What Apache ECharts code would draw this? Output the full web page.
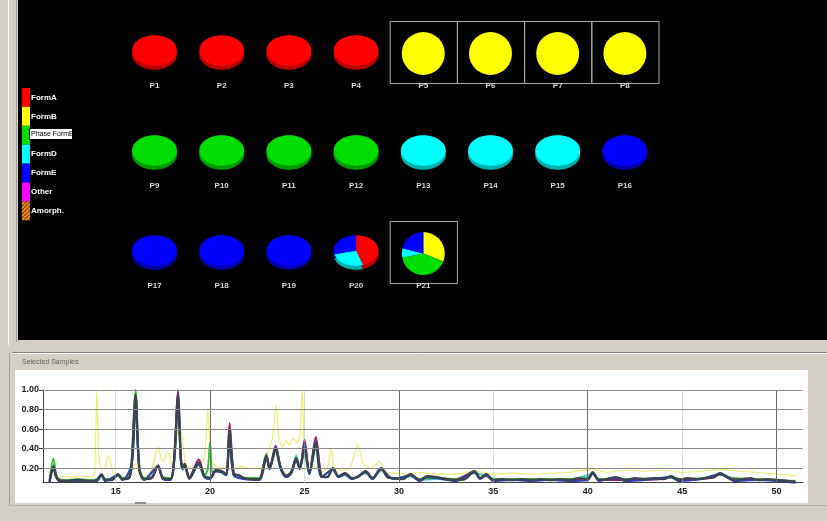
<!DOCTYPE html>
<html><head><meta charset="utf-8">
<script src="https://cdn.jsdelivr.net/npm/echarts@6/dist/echarts.min.js"></script>
<style>
html,body{margin:0;padding:0;width:827px;height:521px;overflow:hidden;background:#d4d0c8}
#main{position:absolute;left:0;top:0;width:827px;height:521px}
#tilt{position:absolute;left:0;top:0;width:827px;height:500px;transform:scaleY(0.68);transform-origin:0 0}
</style></head><body>
<div id="main"></div><div id="tilt"></div>
<script>
// ---------------- DATA ----------------
const sampleNames = ['P1','P2','P3','P4','P5','P6','P7','P8','P9','P10','P11','P12','P13','P14','P15','P16','P17','P18','P19','P20','P21'];
const phaseNames = ['FormA','FormB','FormC','FormD','FormE','Other','Amorph.'];
// phase percentage per sample (P1..P21)
const formA  = [100,100,100,100,0,0,0,0, 0,0,0,0,0,0,0,0, 0,0,0,45,0];
const formB  = [0,0,0,0,100,100,100,100, 0,0,0,0,0,0,0,0, 0,0,0,0,31];
const formC  = [0,0,0,0,0,0,0,0, 100,100,100,100,0,0,0,0, 0,0,0,0,41];
const formD  = [0,0,0,0,0,0,0,0, 0,0,0,0,100,100,100,0, 0,0,0,26,7];
const formE  = [0,0,0,0,0,0,0,0, 0,0,0,0,0,0,0,100, 100,100,100,29,21];
const other  = [0,0,0,0,0,0,0,0, 0,0,0,0,0,0,0,0, 0,0,0,0,0];
const amorph = [0,0,0,0,0,0,0,0, 0,0,0,0,0,0,0,0, 0,0,0,0,0];
const selectedSamples = ['P5','P6','P7','P8','P21'];
const tooltipText = 'Phase FormB';

// diffraction patterns of the selected samples: [2theta, normalised intensity]
const patternYellow = [[11.5,0.10],[11.7,0.14],[11.9,0.10],[12.3,0.12],[12.8,0.11],[13.3,0.12],[13.7,0.11],[13.88,0.14],[14.0,1.00],[14.1,0.35],[14.25,0.18],[14.45,0.22],[14.6,0.33],[14.75,0.25],[14.9,0.12],[15.15,0.14],[15.5,0.10],[15.8,0.16],[16.05,0.25],[16.3,0.12],[16.7,0.12],[17.0,0.25],[17.24,0.42],[17.5,0.26],[17.77,0.37],[18.0,0.22],[18.2,0.5],[18.35,0.62],[18.5,0.55],[18.7,0.25],[19.0,0.2],[19.4,0.22],[19.7,0.3],[19.88,0.80],[20.05,0.3],[20.3,0.22],[20.6,0.2],[20.85,0.22],[21.05,0.35],[21.3,0.2],[21.7,0.22],[22.0,0.2],[22.4,0.2],[22.8,0.22],[23.1,0.38],[23.3,0.5],[23.5,0.85],[23.65,0.5],[23.85,0.42],[24.0,0.48],[24.2,0.44],[24.4,0.5],[24.6,0.46],[24.75,0.52],[24.88,1.0],[25.0,0.35],[25.2,0.2],[25.6,0.22],[25.9,0.16],[26.2,0.2],[26.42,0.4],[26.6,0.2],[27.0,0.18],[27.4,0.2],[27.83,0.45],[28.1,0.25],[28.5,0.2],[28.97,0.27],[29.3,0.16],[29.8,0.15],[30.5,0.14],[31.0,0.16],[31.5,0.15],[32.0,0.14],[33.0,0.14],[34.0,0.17],[35.0,0.14],[36.0,0.15],[37.0,0.14],[38.0,0.15],[39.0,0.16],[40.2,0.19],[41.0,0.16],[42.0,0.18],[43.0,0.17],[44.0,0.18],[45.0,0.16],[46.0,0.17],[47.0,0.19],[48.0,0.17],[49.0,0.16],[50.0,0.14],[51.0,0.12]];
const patternCyan = [[11.5,0.07],[11.7,0.24],[11.85,0.12],[12.0,0.08],[13.0,0.08],[14.0,0.08],[14.25,0.12],[14.5,0.08],[15.12,0.13],[15.4,0.09],[15.85,0.26],[16.05,0.9],[16.25,0.2],[16.5,0.09],[17.24,0.21],[17.5,0.1],[17.9,0.09],[18.1,0.28],[18.3,0.88],[18.45,0.28],[18.55,0.19],[18.65,0.22],[18.9,0.1],[19.4,0.23],[19.7,0.11],[20.0,0.11],[20.3,0.17],[20.6,0.16],[20.85,0.13],[21.03,0.5],[21.25,0.13],[21.8,0.1],[22.6,0.09],[22.98,0.3],[23.15,0.2],[23.47,0.37],[23.75,0.18],[24.05,0.11],[24.3,0.15],[24.56,0.33],[24.75,0.19],[25.0,0.36],[25.25,0.14],[25.6,0.4],[25.9,0.11],[26.5,0.18],[26.8,0.11],[27.15,0.13],[27.5,0.09],[28.24,0.15],[28.6,0.09],[29.06,0.18],[29.7,0.09],[30.6,0.12],[31.1,0.08],[32.0,0.09],[33.0,0.08],[34.0,0.15],[34.62,0.12],[35.0,0.08],[37.0,0.08],[39.0,0.08],[40.26,0.14],[40.6,0.08],[42.0,0.08],[44.4,0.1],[45.0,0.08],[46.5,0.11],[47.0,0.15],[47.6,0.1],[49.0,0.08],[50.5,0.07],[51.0,0.06]];
const patternGreen = [[11.5,0.08],[11.7,0.30],[11.85,0.14],[12.0,0.09],[12.5,0.08],[13.0,0.09],[13.5,0.08],[14.0,0.09],[14.25,0.13],[14.45,0.09],[14.8,0.09],[15.12,0.14],[15.35,0.1],[15.7,0.11],[15.85,0.3],[16.05,1.0],[16.25,0.22],[16.5,0.1],[16.9,0.11],[17.24,0.22],[17.5,0.11],[17.9,0.1],[18.1,0.28],[18.3,0.9],[18.45,0.28],[18.55,0.2],[18.65,0.23],[18.9,0.11],[19.4,0.24],[19.7,0.12],[19.88,0.2],[20.0,0.47],[20.12,0.15],[20.3,0.18],[20.6,0.17],[20.85,0.14],[21.03,0.55],[21.25,0.14],[21.5,0.13],[21.8,0.1],[22.2,0.1],[22.6,0.1],[22.98,0.35],[23.15,0.2],[23.47,0.38],[23.75,0.2],[24.05,0.13],[24.3,0.17],[24.56,0.31],[24.75,0.21],[25.0,0.38],[25.25,0.16],[25.6,0.42],[25.9,0.12],[26.2,0.11],[26.5,0.19],[26.8,0.12],[27.15,0.14],[27.5,0.1],[27.8,0.11],[28.24,0.16],[28.6,0.1],[29.06,0.19],[29.4,0.11],[29.7,0.1],[30.2,0.09],[30.6,0.13],[31.1,0.09],[32.0,0.1],[33.0,0.09],[34.0,0.16],[34.3,0.1],[34.62,0.13],[35.0,0.09],[36.0,0.09],[37.0,0.09],[38.0,0.09],[39.0,0.09],[40.0,0.1],[40.26,0.15],[40.6,0.09],[42.0,0.09],[44.0,0.1],[44.4,0.11],[45.0,0.09],[46.5,0.11],[47.0,0.14],[47.6,0.1],[49.0,0.09],[50.0,0.08],[51.0,0.07]];
const patternPurple = [[11.5,0.07],[11.7,0.2],[11.85,0.11],[12.0,0.08],[12.5,0.07],[13.0,0.08],[13.5,0.07],[14.0,0.08],[14.25,0.13],[14.45,0.08],[14.8,0.08],[15.12,0.13],[15.35,0.09],[15.7,0.1],[15.85,0.24],[16.05,0.93],[16.25,0.2],[16.5,0.09],[16.9,0.1],[17.24,0.22],[17.5,0.1],[17.9,0.09],[18.1,0.32],[18.3,1.0],[18.45,0.32],[18.55,0.2],[18.65,0.25],[18.9,0.11],[19.4,0.29],[19.7,0.12],[20.0,0.1],[20.3,0.17],[20.6,0.17],[20.85,0.14],[21.03,0.66],[21.25,0.15],[21.5,0.13],[21.8,0.1],[22.2,0.09],[22.6,0.09],[22.98,0.33],[23.15,0.21],[23.47,0.43],[23.75,0.2],[24.05,0.12],[24.3,0.16],[24.56,0.29],[24.75,0.2],[25.0,0.49],[25.25,0.15],[25.6,0.52],[25.9,0.12],[26.2,0.11],[26.5,0.2],[26.8,0.12],[27.15,0.15],[27.5,0.1],[27.8,0.11],[28.24,0.17],[28.6,0.1],[29.06,0.2],[29.4,0.11],[29.7,0.1],[30.2,0.09],[30.6,0.14],[31.1,0.08],[31.5,0.11],[32.0,0.1],[33.0,0.08],[34.0,0.17],[34.3,0.1],[34.62,0.13],[35.0,0.08],[36.0,0.08],[37.0,0.08],[38.0,0.08],[39.0,0.08],[40.0,0.09],[40.26,0.15],[40.6,0.08],[42.0,0.08],[44.0,0.09],[44.4,0.11],[45.0,0.08],[46.5,0.1],[47.0,0.14],[47.6,0.09],[49.0,0.08],[50.0,0.08],[51.0,0.06]];
const patternBlue = [[11.5,0.06],[11.7,0.2],[11.85,0.11],[12.0,0.07],[13.0,0.07],[14.0,0.07],[14.25,0.13],[14.45,0.07],[15.12,0.13],[15.35,0.08],[15.85,0.24],[16.05,0.92],[16.25,0.19],[16.5,0.08],[17.24,0.22],[17.5,0.09],[17.9,0.08],[18.1,0.29],[18.3,0.92],[18.45,0.29],[18.55,0.19],[18.65,0.23],[18.9,0.09],[19.4,0.25],[19.7,0.11],[20.0,0.09],[20.3,0.17],[20.6,0.16],[20.85,0.13],[21.03,0.56],[21.25,0.13],[21.8,0.09],[22.6,0.08],[22.98,0.31],[23.15,0.19],[23.47,0.41],[23.75,0.19],[24.05,0.11],[24.3,0.15],[24.56,0.28],[24.75,0.19],[25.0,0.45],[25.25,0.14],[25.6,0.48],[25.9,0.11],[26.5,0.19],[26.8,0.11],[27.15,0.14],[27.5,0.09],[28.24,0.16],[28.6,0.09],[29.06,0.19],[29.7,0.09],[30.6,0.13],[31.1,0.07],[31.5,0.11],[32.0,0.1],[33.0,0.07],[34.0,0.16],[34.3,0.09],[34.62,0.13],[35.0,0.07],[36.0,0.08],[37.0,0.07],[38.0,0.08],[39.0,0.07],[40.0,0.08],[40.26,0.15],[40.6,0.07],[41.5,0.1],[42.0,0.07],[43.0,0.08],[44.4,0.11],[44.8,0.07],[46.0,0.09],[47.0,0.14],[47.8,0.07],[49.0,0.08],[50.0,0.07],[51.0,0.05]];
const patternDark = [[11.5,0.06],[11.7,0.22],[11.85,0.12],[12.0,0.08],[12.5,0.07],[13.0,0.08],[13.5,0.07],[14.0,0.08],[14.25,0.14],[14.45,0.08],[14.8,0.08],[15.12,0.14],[15.35,0.09],[15.7,0.1],[15.85,0.25],[16.05,0.95],[16.25,0.2],[16.5,0.09],[16.9,0.1],[17.24,0.23],[17.5,0.1],[17.9,0.09],[18.1,0.3],[18.3,0.95],[18.45,0.3],[18.55,0.2],[18.65,0.24],[18.9,0.1],[19.4,0.26],[19.7,0.12],[20.0,0.1],[20.3,0.18],[20.6,0.17],[20.85,0.14],[21.03,0.58],[21.25,0.14],[21.5,0.13],[21.8,0.1],[22.2,0.09],[22.6,0.09],[22.98,0.32],[23.15,0.2],[23.47,0.4],[23.75,0.2],[24.05,0.12],[24.3,0.16],[24.56,0.3],[24.75,0.2],[25.0,0.42],[25.25,0.15],[25.6,0.46],[25.9,0.12],[26.2,0.11],[26.5,0.2],[26.8,0.12],[27.15,0.15],[27.5,0.1],[27.8,0.11],[28.24,0.17],[28.6,0.1],[29.06,0.2],[29.4,0.11],[29.7,0.1],[30.2,0.09],[30.6,0.14],[31.1,0.08],[31.5,0.12],[32.0,0.11],[32.5,0.09],[33.0,0.08],[33.5,0.09],[34.0,0.17],[34.3,0.1],[34.62,0.14],[35.0,0.08],[35.5,0.09],[36.0,0.08],[36.5,0.09],[37.0,0.08],[37.5,0.09],[38.0,0.08],[38.5,0.09],[39.0,0.08],[39.5,0.1],[40.0,0.09],[40.26,0.16],[40.6,0.08],[41.0,0.09],[41.5,0.11],[42.0,0.08],[42.5,0.1],[43.0,0.09],[43.5,0.1],[44.0,0.09],[44.4,0.12],[44.8,0.08],[45.3,0.1],[45.8,0.09],[46.3,0.1],[46.7,0.11],[47.0,0.15],[47.4,0.11],[47.8,0.08],[48.2,0.09],[48.6,0.1],[49.0,0.08],[49.5,0.09],[50.0,0.08],[50.5,0.07],[51.0,0.06]];
const xTicks = [15,20,25,30,35,40,45,50];
const xMajor = [20,30,40,50];
const yTicks = [0.2,0.4,0.6,0.8,1.0];

// ---------------- STYLE / LAYOUT ----------------
const phaseSeries = [formA, formB, formC, formD, formE, other, amorph];
const faceColors = ['#ff0000','#ffff00','#00dd00','#00ffff','#0000ff','#ff00ff','#e07818'];
const rimColors  = ['#b80000','#b8b800','#009800','#00b0b0','#0000a8','#b000b0','#a05000'];
const COLS = 8, X0 = 154.5, DX = 67.2, FACE_Y0 = 50.5, CIRC_Y0 = 53.5, LBL_Y0 = 86, DY = 100;
const R = 22.5, RC = 21.5, RIM = 4, TILT = 0.68;
const FONT = '"Liberation Sans", Arial, sans-serif';

function slices(i, colors) {
  return phaseSeries.map((arr, k) => ({ name: phaseNames[k], value: arr[i], itemStyle: { color: colors[k] } }))
                    .filter(d => d.value > 0);
}
const pieBase = { type: 'pie', silent: true, animation: false, startAngle: 90, clockwise: true,
  label: { show: false }, labelLine: { show: false }, emphasis: { disabled: true },
  itemStyle: { borderWidth: 0 }, avoidLabelOverlap: false };

const tiltSeries = [], flatSeries = [], gfx = [];
sampleNames.forEach((name, i) => {
  const col = i % COLS, row = Math.floor(i / COLS);
  const cx = X0 + DX * col;
  const sel = selectedSamples.includes(name);
  if (sel) {
    flatSeries.push(Object.assign({}, pieBase, { center: [cx, CIRC_Y0 + DY * row], radius: RC, data: slices(i, faceColors) }));
    gfx.push({ type: 'rect', z: -5, shape: { x: cx - DX / 2 + 0.5, y: 21.5 + DY * row, width: DX, height: 62 },
      style: { fill: 'none', stroke: '#a8a8a8', lineWidth: 1 } });
  } else {
    const fy = FACE_Y0 + DY * row;
    tiltSeries.push(Object.assign({}, pieBase, { center: [cx, (fy + RIM) / TILT], radius: R, data: slices(i, rimColors) }));
    tiltSeries.push(Object.assign({}, pieBase, { center: [cx, fy / TILT], radius: R, data: slices(i, faceColors) }));
  }
  gfx.push({ type: 'text', z: -4, x: cx, y: LBL_Y0 + DY * row,
    style: { text: name, fill: '#d8d8d8', font: 'bold 8px ' + FONT, textAlign: 'center', textVerticalAlign: 'middle' } });
});

// hatch pattern for amorphous
const pc = document.createElement('canvas'); pc.width = 4; pc.height = 4;
const pg = pc.getContext('2d'); pg.fillStyle = '#e88a20'; pg.fillRect(0, 0, 4, 4);
pg.strokeStyle = '#8a3c08'; pg.lineWidth = 1.2; pg.beginPath(); pg.moveTo(-1, 5); pg.lineTo(5, -1); pg.stroke();

// legend
const LEG_Y0 = 88, LEG_H = 18.9;
phaseNames.forEach((p, k) => {
  gfx.push({ type: 'rect', z: -4, shape: { x: 22, y: LEG_Y0 + LEG_H * k, width: 8, height: LEG_H },
    style: { fill: k === 6 ? { image: pc, repeat: 'repeat' } : faceColors[k] } });
  if (k !== 2) gfx.push({ type: 'text', z: -4, x: 31, y: LEG_Y0 + LEG_H * k + LEG_H / 2,
    style: { text: p, fill: '#ffffff', font: 'bold 8px ' + FONT, textVerticalAlign: 'middle' } });
});
gfx.push({ type: 'rect', z: -3, shape: { x: 29.5, y: 128.5, width: 43, height: 11 }, style: { fill: '#ffffff', stroke: '#000000', lineWidth: 1 } });
gfx.push({ type: 'text', z: -3, x: 31, y: 134.5, style: { text: tooltipText, fill: '#000000', font: '7px ' + FONT, textVerticalAlign: 'middle' } });

// window chrome
const chrome = [
  { type: 'rect', z: -20, shape: { x: 0, y: 0, width: 827, height: 521 }, style: { fill: '#d4d0c8' } },
  { type: 'rect', z: -19, shape: { x: 18, y: 0, width: 809, height: 340 }, style: { fill: '#000000' } },
  { type: 'line', z: -19, shape: { x1: 8.5, y1: 0, x2: 8.5, y2: 345 }, style: { stroke: '#ffffff', lineWidth: 1 } },
  { type: 'line', z: -19, shape: { x1: 16.5, y1: 0, x2: 16.5, y2: 342 }, style: { stroke: '#a0a0a0', lineWidth: 1 } },
  { type: 'line', z: -19, shape: { x1: 12, y1: 352.5, x2: 827, y2: 352.5 }, style: { stroke: '#808080', lineWidth: 1 } },
  { type: 'line', z: -19, shape: { x1: 12, y1: 353.5, x2: 827, y2: 353.5 }, style: { stroke: '#ffffff', lineWidth: 1 } },
  { type: 'line', z: -19, shape: { x1: 9.5, y1: 353, x2: 9.5, y2: 506 }, style: { stroke: '#a0a0a0', lineWidth: 1 } },
  { type: 'text', z: -19, x: 22, y: 362.5, style: { text: 'Selected Samples', fill: '#606060', font: '7px ' + FONT, textVerticalAlign: 'middle' } },
  { type: 'rect', z: -19, shape: { x: 15, y: 370, width: 793, height: 133 }, style: { fill: '#ffffff' } },
  { type: 'line', z: -19, shape: { x1: 9, y1: 505.5, x2: 827, y2: 505.5 }, style: { stroke: '#b8b4ac', lineWidth: 1 } },
  { type: 'rect', z: -19, shape: { x: 135, y: 502, width: 11, height: 2 }, style: { fill: '#909090' } }
];

// ---------------- CHARTS ----------------
const lineBase = { type: 'line', showSymbol: false, silent: true, animation: false, smooth: 0.3, clip: true };
const grid = [];
xTicks.forEach(v => grid.push({ xAxis: v, lineStyle: xMajor.includes(v)
  ? { color: '#6c6c6c', type: 'solid', width: 1 } : { color: '#b4b4b4', type: 'dotted', width: 1 } }));
yTicks.forEach(v => grid.push({ yAxis: v, lineStyle: { color: '#8c8c8c', type: 'solid', width: 1 } }));

const main = echarts.init(document.getElementById('main'));
main.setOption({
  animation: false,
  graphic: { elements: chrome.concat(gfx) },
  grid: { left: 43, top: 390, width: 760, height: 92.7, containLabel: false, outerBoundsMode: 'none' },
  xAxis: { type: 'value', min: 11.15, max: 51.4,
    axisLine: { lineStyle: { color: '#404040', width: 1 } }, axisTick: { show: false }, splitLine: { show: false },
    axisLabel: { customValues: xTicks, color: '#202020', fontWeight: 'bold', fontSize: 9, fontFamily: FONT, margin: 4 } },
  yAxis: { type: 'value', min: 0.053, max: 1.0,
    axisLine: { show: true, lineStyle: { color: '#404040', width: 1 } },
    axisTick: { show: true, customValues: yTicks, length: 4, lineStyle: { color: '#404040' } },
    splitLine: { show: false },
    axisLabel: { customValues: yTicks, formatter: v => v.toFixed(2), color: '#202020', fontWeight: 'bold', fontSize: 9, fontFamily: FONT, margin: 4 } },
  series: [
    Object.assign({}, lineBase, { name: 'FormB sample', data: patternYellow, smooth: 0.2, lineStyle: { color: '#eeee70', width: 1.2 }, z: 1,
      markLine: { silent: true, animation: false, symbol: ['none', 'none'], label: { show: false }, data: grid } }),
    Object.assign({}, lineBase, { name: 'cyan', data: patternCyan, lineStyle: { color: '#48c8d0', width: 2 } }),
    Object.assign({}, lineBase, { name: 'green', data: patternGreen, lineStyle: { color: '#38c038', width: 2 } }),
    Object.assign({}, lineBase, { name: 'purple', data: patternPurple, lineStyle: { color: '#a0206a', width: 2 } }),
    Object.assign({}, lineBase, { name: 'blue', data: patternBlue, lineStyle: { color: '#3040b0', width: 2 } }),
    Object.assign({}, lineBase, { name: 'dark', data: patternDark, lineStyle: { color: '#3c4450', width: 2.4 } })
  ].concat(flatSeries)
});

const tilt = echarts.init(document.getElementById('tilt'));
tilt.setOption({ animation: false, backgroundColor: 'transparent', series: tiltSeries });
</script></body></html>
